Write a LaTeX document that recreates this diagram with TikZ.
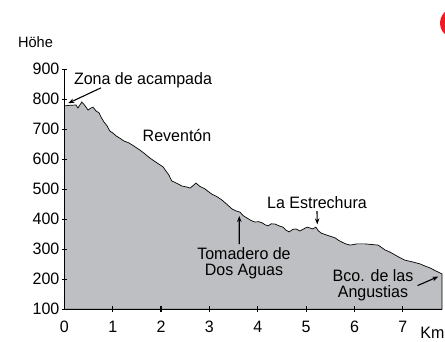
\documentclass[tikz,border=0pt]{standalone}
\usepackage{fontspec}
\setmainfont{Liberation Sans}[FakeStretch=0.97]
\usetikzlibrary{arrows.meta}
\definecolor{terrain}{RGB}{190,191,194}
\definecolor{badge}{RGB}{237,28,36}

\begin{document}
\begin{tikzpicture}[x=48.35pt, y=0.3pt,
    lbl/.style={font=\fontsize{16.5}{16}\selectfont, inner sep=0pt},
    ptr/.style={line width=1.1pt, -{Stealth[length=6pt,width=4.5pt]}},
    tck/.style={line width=1.2pt}]
    \useasboundingbox (-1.332,-9) rectangle (7.872,1131);
    \fill[badge] (8.08,1054) circle (15pt);

    % profile
    \draw[line width=0.7pt, fill=terrain] (0,100) -- (0,778)
        -- (0.12,780) -- (0.24,781) -- (0.28,771) -- (0.36,791) -- (0.42,780)
        -- (0.49,764) -- (0.54,770) -- (0.59,774) -- (0.65,762) -- (0.72,754)
        -- (0.76,740) -- (0.82,724) -- (0.88,712) -- (0.94,694) -- (1.0,688)
        -- (1.07,678) -- (1.15,670) -- (1.23,661) -- (1.33,655) -- (1.44,644)
        -- (1.56,631) -- (1.65,620) -- (1.77,604) -- (1.86,594) -- (1.98,581)
        -- (2.04,575) -- (2.10,561) -- (2.16,548) -- (2.22,528) -- (2.30,522)
        -- (2.43,511) -- (2.52,508) -- (2.60,504) -- (2.66,512) -- (2.72,521)
        -- (2.80,510) -- (2.91,501) -- (2.98,492) -- (3.05,484) -- (3.15,476)
        -- (3.26,464) -- (3.36,450) -- (3.47,434) -- (3.55,428) -- (3.63,424)
        -- (3.70,412) -- (3.78,404) -- (3.86,396) -- (3.94,391) -- (4.02,392)
        -- (4.09,388) -- (4.15,382) -- (4.21,378) -- (4.28,385) -- (4.36,384)
        -- (4.44,378) -- (4.52,374) -- (4.58,364) -- (4.65,358) -- (4.72,366)
        -- (4.79,368) -- (4.87,361) -- (4.95,368) -- (5.02,374) -- (5.08,371)
        -- (5.14,368) -- (5.20,374) -- (5.25,362) -- (5.31,354) -- (5.45,346)
        -- (5.60,338) -- (5.67,330) -- (5.74,324) -- (5.82,318) -- (5.91,314)
        -- (6.05,318) -- (6.22,318) -- (6.35,316) -- (6.49,314) -- (6.56,306)
        -- (6.63,298) -- (6.73,291) -- (6.84,281) -- (6.94,272) -- (7.04,264)
        -- (7.20,258) -- (7.36,251) -- (7.46,244) -- (7.56,238) -- (7.68,228)
        -- (7.81,218) -- (7.81,100) -- cycle;

    % axes
    \draw[tck] (0,900) -- (0,100) -- (7.81,100);
    \foreach \h in {100,200,...,900} {
        \draw[tck] ([xshift=-2.5pt]0,\h) -- ([xshift=2.5pt]0,\h);
        \node[lbl, anchor=east] (h\h) at (-0.1,\h) {\h};
    }
    \foreach \k in {1,...,7}
        \draw[tck] ([yshift=-3pt]\k,100) -- ([yshift=3pt]\k,100);
    \foreach \k in {0,...,7}
        \node[lbl] (k\k) at (\k,42) {\k};
    \node[lbl, anchor=base] (km) at (7.613,4) {Km};
    \node[lbl, anchor=base, font=\fontsize{15}{15}\selectfont] (hoehe) at (-0.598,971) {Höhe};

    % places
    \node[lbl, anchor=base] (zona) at (1.626,848) {Zona de acampada};
    \coordinate (zonaTip) at (0.08,787);
    \draw[ptr] ([xshift=27pt,yshift=-3pt]zona.base west) -- (zonaTip);

    \node[lbl, anchor=base] (reventon) at (2.329,658) {Reventón};

    \node[lbl, anchor=base] (estr) at (5.224,435) {La Estrechura};
    \coordinate (estrTip) at (5.231,383);
    \draw[ptr] ([yshift=-2pt]estr.south) -- (estrTip);

    \node[lbl, align=center] (toma) at (3.714,254) {Tomadero de\\Dos Aguas};
    \coordinate (tomaTip) at (3.617,411);
    \draw[ptr] ([xshift=-4.7pt,yshift=3pt]toma.north) -- (tomaTip);

    \node[lbl, align=center] (bco) at (6.383,179) {Bco. de las\\Angustias};
    \coordinate (bcoTip) at (7.733,209);
    \draw[ptr] ([xshift=4pt]bco.east) -- (bcoTip);
\end{tikzpicture}
\end{document}
